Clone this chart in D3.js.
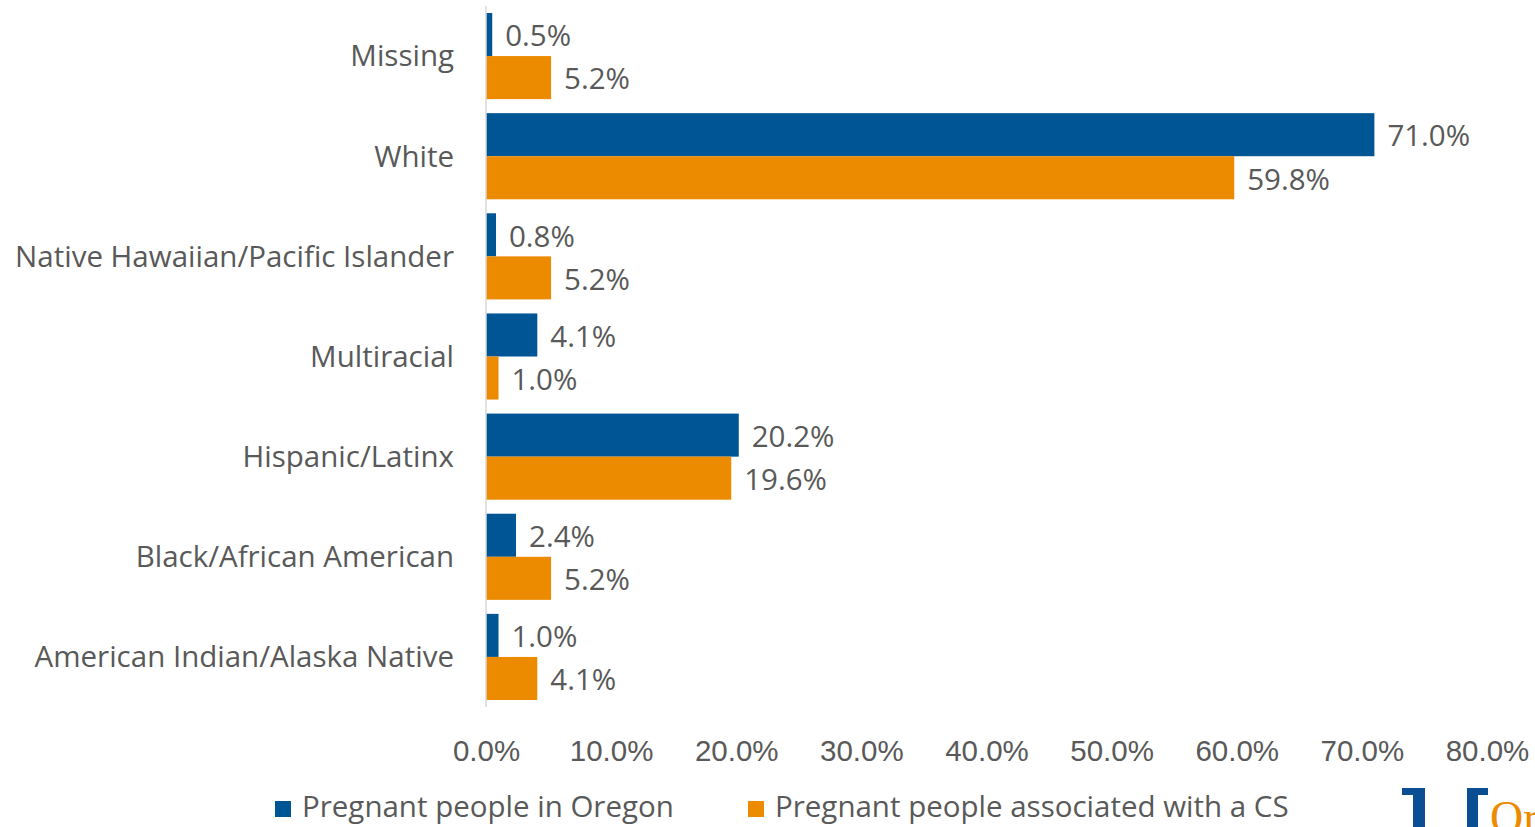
<!DOCTYPE html>
<html>
<head>
<meta charset="utf-8">
<script src="https://cdn.jsdelivr.net/npm/d3@7"></script>
<style>
  html, body { margin: 0; padding: 0; background: #fff; overflow: hidden; }
  svg { display: block; font-family: "Open Sans", Lato, sans-serif; }
  .lbl { fill: #595959; }
</style>
</head>
<body>
<svg id="chart" width="1535" height="827"></svg>
<script>
// Data
var categories = ["Missing", "White", "Native Hawaiian/Pacific Islander", "Multiracial",
  "Hispanic/Latinx", "Black/African American", "American Indian/Alaska Native"];
var oregon = [0.5, 71.0, 0.8, 4.1, 20.2, 2.4, 1.0];
var cs = [5.2, 59.8, 5.2, 1.0, 19.6, 5.2, 4.1];
var seriesNames = ["Pregnant people in Oregon", "Pregnant people associated with a CS"];
var xTicks = [0, 10, 20, 30, 40, 50, 60, 70, 80];

var colors = ["#005595", "#EC8A00"];
var fontSize = 29.5;

var svg = d3.select("#chart");
var margin = {left: 486, top: 6, right: 48, bottom: 120};
var width = 1535 - margin.left - margin.right;
var height = 827 - margin.top - margin.bottom;

var x = d3.scaleLinear().domain([0, 80]).range([0, width]);
var y = d3.scaleBand().domain(categories).range([0, height]).paddingInner(0.14).paddingOuter(0.07);
var inner = d3.scaleBand().domain([0, 1]).range([0, y.bandwidth()]);

var g = svg.append("g").attr("transform", "translate(" + margin.left + "," + margin.top + ")");

var rows = categories.map(function(c, i) { return {cat: c, vals: [oregon[i], cs[i]]}; });

var row = g.selectAll(".row").data(rows).enter().append("g")
  .attr("transform", function(d) { return "translate(0," + y(d.cat) + ")"; });

row.selectAll("rect").data(function(d) { return d.vals; }).enter().append("rect")
  .attr("x", 0)
  .attr("y", function(d, i) { return inner(i); })
  .attr("width", function(d) { return x(d); })
  .attr("height", inner.bandwidth())
  .attr("fill", function(d, i) { return colors[i]; });

row.selectAll("text.val").data(function(d) { return d.vals; }).enter().append("text")
  .attr("class", "lbl val")
  .attr("x", function(d) { return x(d) + 13; })
  .attr("y", function(d, i) { return inner(i) + inner.bandwidth() / 2; })
  .attr("dy", "0.4em")
  .style("font-size", fontSize + "px")
  .text(function(d) { return d.toFixed(1) + "%"; });

// category labels
g.selectAll("text.cat").data(categories).enter().append("text")
  .attr("class", "lbl cat")
  .attr("x", -32)
  .attr("y", function(d) { return y(d) + y.bandwidth() / 2; })
  .attr("dy", "0.35em")
  .attr("text-anchor", "end")
  .style("font-size", fontSize + "px")
  .text(function(d) { return d; });

// vertical axis line
g.append("line")
  .attr("x1", 0).attr("x2", 0).attr("y1", 0).attr("y2", height)
  .attr("stroke", "#d9d9d9").attr("stroke-width", 1.5);

// x axis tick labels
var xAxis = d3.axisBottom(x).tickValues(xTicks).tickSize(0)
  .tickFormat(function(d) { return d.toFixed(1) + "%"; });
var ax = g.append("g").attr("transform", "translate(0," + (height + 30) + ")").call(xAxis);
ax.select(".domain").remove();
ax.selectAll("text").attr("class", "lbl").attr("fill", null)
  .style("font-size", fontSize + "px").style("font-family", null);

// legend
var legendX = [275, 748];
var leg = svg.selectAll(".leg").data(seriesNames).enter().append("g")
  .attr("transform", function(d, i) { return "translate(" + legendX[i] + ",807)"; });
leg.append("rect").attr("x", 0).attr("y", -6).attr("width", 16).attr("height", 16)
  .attr("fill", function(d, i) { return colors[i]; });
leg.append("text").attr("class", "lbl").attr("x", 27).attr("dy", "0.35em")
  .style("font-size", fontSize + "px").text(function(d) { return d; });

// partial logo in the corner
var logo = svg.append("g");
logo.append("path").attr("fill", "#0a4f93")
  .attr("d", "M1402,788 H1425 V827 H1413 V795 H1402 Z");
logo.append("path").attr("fill", "#0a4f93")
  .attr("d", "M1467,788 H1488 V795 H1478 V827 H1467 Z");
logo.append("text").attr("x", 1490).attr("y", 833)
  .style("font-family", "'Liberation Serif', serif").style("font-size", "46px")
  .attr("fill", "#EC8A00").text("Or");
</script>
</body>
</html>
